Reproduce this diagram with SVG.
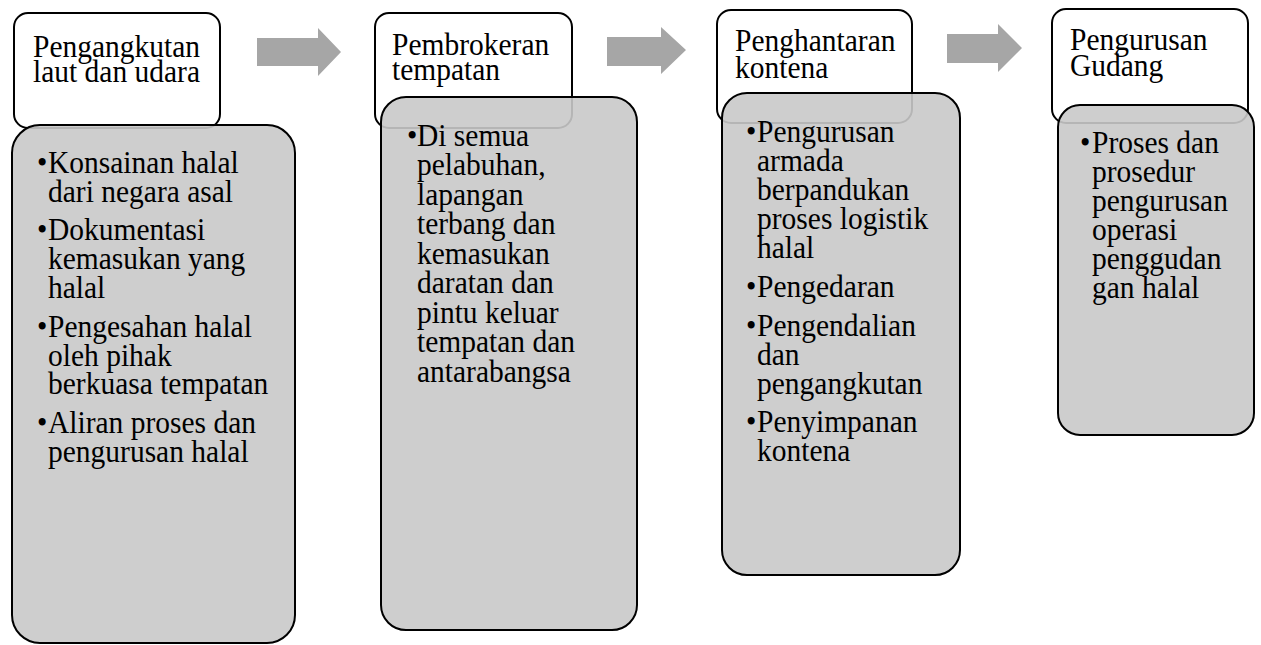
<svg xmlns="http://www.w3.org/2000/svg" width="1261" height="645" viewBox="0 0 1261 645">
<style>
.hdr{fill:#ffffff;stroke:#000000;stroke-width:2}
.body{fill:#c9c9c9;fill-opacity:0.9;stroke:#000000;stroke-width:2}
.arrow{fill:#a6a6a6}
text{font-family:"Liberation Serif","Times New Roman",serif;font-size:29.5px;fill:#000000}
</style>
<rect width="1261" height="645" fill="#ffffff"/>
<g id="connectors">
<polygon class="arrow" points="257,38 318,38 318,28 341,52 318,76 318,66 257,66"/>
<polygon class="arrow" points="607,37 661,37 661,27 686,50 661,74 661,66 607,66"/>
<polygon class="arrow" points="947,34 998,34 998,24 1022,48 998,72 998,63 947,63"/>
</g>
<g id="node1">
<rect class="hdr" x="14" y="13" width="206" height="115" rx="14"/>
<rect class="body" x="12" y="125" width="283" height="518" rx="28"/>
<text transform="scale(1,1.1)">
<tspan x="33" y="51.82">Pengangkutan</tspan>
<tspan x="33" y="74.55">laut dan udara</tspan>
<tspan x="37" y="157.27">•</tspan><tspan x="48" y="157.27">Konsainan halal</tspan>
<tspan x="48" y="183.64">dari negara asal</tspan>
<tspan x="37" y="218.18">•</tspan><tspan x="48" y="218.18">Dokumentasi</tspan>
<tspan x="48" y="244.55">kemasukan yang</tspan>
<tspan x="48" y="270.91">halal</tspan>
<tspan x="37" y="306.36">•</tspan><tspan x="48" y="306.36">Pengesahan halal</tspan>
<tspan x="48" y="332.73">oleh pihak</tspan>
<tspan x="48" y="358.18">berkuasa tempatan</tspan>
<tspan x="37" y="393.64">•</tspan><tspan x="48" y="393.64">Aliran proses dan</tspan>
<tspan x="48" y="420">pengurusan halal</tspan>
</text>
</g>
<g id="node2">
<rect class="hdr" x="375" y="13" width="197" height="115" rx="14"/>
<rect class="body" x="381" y="97" width="256" height="533" rx="25"/>
<text transform="scale(1,1.1)">
<tspan x="392" y="50">Pembrokeran</tspan>
<tspan x="392" y="72.73">tempatan</tspan>
<tspan x="407" y="132.73">•</tspan><tspan x="417" y="132.73">Di semua</tspan>
<tspan x="417" y="159.55">pelabuhan,</tspan>
<tspan x="417" y="186.36">lapangan</tspan>
<tspan x="417" y="213.18">terbang dan</tspan>
<tspan x="417" y="240">kemasukan</tspan>
<tspan x="417" y="266.82">daratan dan</tspan>
<tspan x="417" y="293.64">pintu keluar</tspan>
<tspan x="417" y="320.45">tempatan dan</tspan>
<tspan x="417" y="347.27">antarabangsa</tspan>
</text>
</g>
<g id="node3">
<rect class="hdr" x="717" y="10" width="195" height="113" rx="14"/>
<rect class="body" x="722" y="93" width="238" height="482" rx="25"/>
<text transform="scale(1,1.1)">
<tspan x="735" y="46.36">Penghantaran</tspan>
<tspan x="735" y="70.91">kontena</tspan>
<tspan x="746" y="129.09">•</tspan><tspan x="757" y="129.09">Pengurusan</tspan>
<tspan x="757" y="155.45">armada</tspan>
<tspan x="757" y="181.82">berpandukan</tspan>
<tspan x="757" y="208.18">proses logistik</tspan>
<tspan x="757" y="234.55">halal</tspan>
<tspan x="746" y="270">•</tspan><tspan x="757" y="270">Pengedaran</tspan>
<tspan x="746" y="305.45">•</tspan><tspan x="757" y="305.45">Pengendalian</tspan>
<tspan x="757" y="331.82">dan</tspan>
<tspan x="757" y="358.18">pengangkutan</tspan>
<tspan x="746" y="392.73">•</tspan><tspan x="757" y="392.73">Penyimpanan</tspan>
<tspan x="757" y="419.09">kontena</tspan>
</text>
</g>
<g id="node4">
<rect class="hdr" x="1052" y="9" width="196" height="114" rx="14"/>
<rect class="body" x="1058" y="105" width="196" height="330" rx="22"/>
<text transform="scale(1,1.1)">
<tspan x="1070" y="45.45">Pengurusan</tspan>
<tspan x="1070" y="69.09">Gudang</tspan>
<tspan x="1080" y="139.09">•</tspan><tspan x="1092" y="139.09">Proses dan</tspan>
<tspan x="1092" y="165.45">prosedur</tspan>
<tspan x="1092" y="191.82">pengurusan</tspan>
<tspan x="1092" y="218.18">operasi</tspan>
<tspan x="1092" y="244.55">penggudan</tspan>
<tspan x="1092" y="270.91">gan halal</tspan>
</text>
</g>
</svg>
